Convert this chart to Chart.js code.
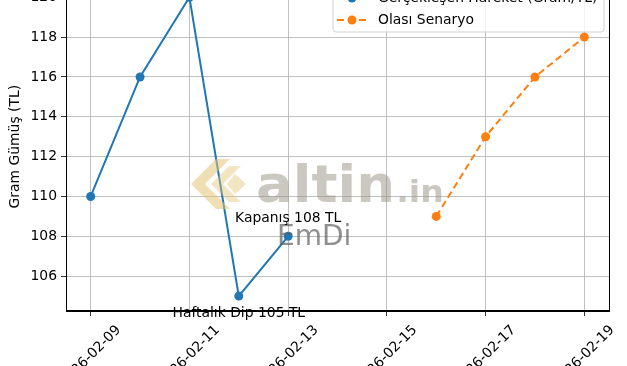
<!DOCTYPE html>
<html>
<head>
<meta charset="utf-8">
<script src="https://cdn.jsdelivr.net/npm/chart.js@4.4.1/dist/chart.umd.min.js"></script>
<style>
  html, body { margin: 0; padding: 0; background: #fff; overflow: hidden; width: 627px; height: 366px; }
  #wrap { position: absolute; left: 0; top: -30px; width: 627px; height: 430px; }
  canvas { display: block; }
</style>
</head>
<body>
<div id="wrap"><canvas id="c" width="627" height="430"></canvas></div>
<script>
// ---- data ----
const actualDates = ['2026-02-09', '2026-02-10', '2026-02-11', '2026-02-12', '2026-02-13'];
const actualValues = [110, 116, 120, 105, 108];
const scenarioDates = ['2026-02-16', '2026-02-17', '2026-02-18', '2026-02-19'];
const scenarioValues = [109, 113, 116, 118];
const xTickLabels = ['2026-02-09', '2026-02-11', '2026-02-13', '2026-02-15', '2026-02-17', '2026-02-19'];
const yTickValues = [106, 108, 110, 112, 114, 116, 118, 120];
const seriesNames = ['Gerçekleşen Hareket (Gram/TL)', 'Olası Senaryo'];
const yTitle = 'Gram Gümüş (TL)';
const dipLabel = 'Haftalık Dip 105 TL';
const closeLabel = 'Kapanış 108 TL';

const BASE = Date.parse(actualDates[0] + 'T00:00:00Z');
const dayOf = d => (Date.parse(d + 'T00:00:00Z') - BASE) / 86400000;
const toPts = (dates, vals) => dates.map((d, i) => ({ x: dayOf(d), y: vals[i] }));

const allX = actualDates.concat(scenarioDates).map(dayOf);
const allY = actualValues.concat(scenarioValues);
const xMinD = Math.min(...allX), xMaxD = Math.max(...allX);
const yMinD = Math.min(...allY), yMaxD = Math.max(...allY);
const xPad = (xMaxD - xMinD) * 0.05, yPad = (yMaxD - yMinD) * 0.05;

const BLUE = '#1f77b4', ORANGE = '#ff7f0e';
const FONT = 'DejaVu Sans';
const FS = 13.9;

const spines = {
  id: 'spines',
  afterDraw(chart) {
    const { ctx, chartArea: a } = chart;
    ctx.save();
    ctx.strokeStyle = '#000';
    ctx.lineWidth = 1;
    ctx.strokeRect(Math.round(a.left) + 0.5, Math.round(a.top) + 0.5, Math.round(a.right - a.left), Math.round(a.bottom - a.top));
    ctx.restore();
  }
};

const watermark = {
  id: 'watermark',
  afterDatasetsDraw(chart) {
    const ctx = chart.ctx;
    ctx.save();
    // chevron logo
    ctx.fillStyle = 'rgba(228,196,120,0.55)';
    const ox = 191, oy = 214; // canvas coords
    const chev = (x, y, w, h, t) => {
      ctx.beginPath();
      ctx.moveTo(x + w, y - h);
      ctx.lineTo(x, y);
      ctx.lineTo(x + w, y + h);
      ctx.lineTo(x + w + t, y + h);
      ctx.lineTo(x + t, y);
      ctx.lineTo(x + w + t, y - h);
      ctx.closePath();
      ctx.fill();
    };
    chev(ox, oy, 25, 25, 14);
    ctx.fillStyle = 'rgba(228,196,120,0.45)';
    chev(ox + 20, oy, 18, 18, 12);
    ctx.beginPath();
    ctx.moveTo(ox + 44, oy - 10); ctx.lineTo(ox + 55, oy); ctx.lineTo(ox + 44, oy + 10); ctx.lineTo(ox + 36, oy); ctx.closePath();
    ctx.fill();
    // altin.in
    ctx.fillStyle = 'rgba(150,145,130,0.5)';
    ctx.textBaseline = 'alphabetic';
    ctx.textAlign = 'left';
    ctx.translate(256, 232);
    ctx.scale(1.07, 1);
    ctx.font = 'bold 51px "' + FONT + '"';
    ctx.fillText('altin', 0, 0);
    const w = ctx.measureText('altin').width;
    ctx.font = 'bold 31px "' + FONT + '"';
    ctx.fillText('.in', w + 1, 0);
    ctx.setTransform(1, 0, 0, 1, 0, 0);
    // EmDi
    ctx.fillStyle = 'rgba(95,95,95,0.7)';
    ctx.font = '28px "' + FONT + '"';
    ctx.fillText('EmDi', 277, 275);
    ctx.restore();
  }
};

const notes = {
  id: 'notes',
  afterDraw(chart) {
    const ctx = chart.ctx, xs = chart.scales.x, ys = chart.scales.y;
    ctx.save();
    ctx.fillStyle = '#000';
    ctx.font = FS + 'px "' + FONT + '"';
    ctx.textAlign = 'center';
    ctx.textBaseline = 'middle';
    const dipIdx = actualValues.indexOf(Math.min(...actualValues));
    ctx.fillText(dipLabel, xs.getPixelForValue(dayOf(actualDates[dipIdx])), ys.getPixelForValue(actualValues[dipIdx]) + 17);
    const last = actualValues.length - 1;
    ctx.fillText(closeLabel, xs.getPixelForValue(dayOf(actualDates[last])), ys.getPixelForValue(actualValues[last]) - 18);
    ctx.restore();
  }
};

const legendBox = {
  id: 'legendBox',
  afterDraw(chart) {
    const ctx = chart.ctx;
    ctx.save();
    const x0 = 333, y0 = 13, x1 = 604, y1 = 62, r = 3;
    ctx.beginPath();
    ctx.moveTo(x0 + r, y0); ctx.lineTo(x1 - r, y0); ctx.arcTo(x1, y0, x1, y0 + r, r);
    ctx.lineTo(x1, y1 - r); ctx.arcTo(x1, y1, x1 - r, y1, r);
    ctx.lineTo(x0 + r, y1); ctx.arcTo(x0, y1, x0, y1 - r, r);
    ctx.lineTo(x0, y0 + r); ctx.arcTo(x0, y0, x0 + r, y0, r);
    ctx.closePath();
    ctx.fillStyle = 'rgba(255,255,255,0.8)';
    ctx.fill();
    ctx.strokeStyle = '#d0d0d0';
    ctx.lineWidth = 1;
    ctx.stroke();
    const rows = [28, 50];
    chart.data.datasets.forEach((ds, i) => {
      const y = rows[i];
      ctx.strokeStyle = ds.borderColor;
      ctx.lineWidth = 2;
      ctx.setLineDash(ds.borderDash || []);
      ctx.beginPath(); ctx.moveTo(337, y); ctx.lineTo(367, y); ctx.stroke();
      ctx.setLineDash([]);
      ctx.fillStyle = ds.backgroundColor;
      ctx.beginPath(); ctx.arc(352, y, 4.5, 0, Math.PI * 2); ctx.fill();
      ctx.fillStyle = '#000';
      ctx.font = FS + 'px "' + FONT + '"';
      ctx.textAlign = 'left';
      ctx.textBaseline = 'middle';
      ctx.fillText(ds.label, 378, y);
    });
    ctx.restore();
  }
};

new Chart(document.getElementById('c'), {
  type: 'line',
  data: {
    datasets: [
      { label: seriesNames[0], data: toPts(actualDates, actualValues), borderColor: BLUE, backgroundColor: BLUE,
        borderWidth: 2, pointRadius: 4.5, pointHoverRadius: 4.5, pointBorderWidth: 0, tension: 0 },
      { label: seriesNames[1], data: toPts(scenarioDates, scenarioValues), borderColor: ORANGE, backgroundColor: ORANGE,
        borderWidth: 2, borderDash: [7, 4], pointRadius: 4.5, pointHoverRadius: 4.5, pointBorderWidth: 0, tension: 0 }
    ]
  },
  options: {
    responsive: false,
    animation: false,
    devicePixelRatio: 1,
    layout: { padding: { top: 10, right: 18, left: 0, bottom: 0 } },
    plugins: { legend: { display: false }, tooltip: { enabled: false }, title: { display: false } },
    scales: {
      x: {
        type: 'linear',
        min: xMinD - xPad, max: xMaxD + xPad,
        afterFit: s => { s.height = 89; },
        afterBuildTicks: s => { s.ticks = xTickLabels.map(l => ({ value: dayOf(l) })); },
        grid: { color: '#b0b0b0', lineWidth: 0.8, tickColor: '#000', tickLength: 5, drawTicks: true },
        border: { color: '#000', width: 1 },
        ticks: {
          autoSkip: false, maxRotation: 45, minRotation: 45, labelOffset: 28, padding: 6,
          color: '#000', font: { family: FONT, size: FS },
          callback: v => xTickLabels.find(l => dayOf(l) === v) || ''
        }
      },
      y: {
        min: yMinD - yPad, max: yMaxD + yPad,
        afterFit: s => { s.width = 66; },
        afterBuildTicks: s => { s.ticks = yTickValues.map(v => ({ value: v })); },
        grid: { color: '#b0b0b0', lineWidth: 0.8, tickColor: '#000', tickLength: 5, drawTicks: true },
        border: { color: '#000', width: 1 },
        ticks: { color: '#000', padding: 4, font: { family: FONT, size: FS } },
        title: { display: true, text: yTitle, color: '#000', font: { family: FONT, size: FS }, padding: { top: 7, bottom: 0 } }
      }
    }
  },
  plugins: [spines, watermark, notes, legendBox]
});
</script>
</body>
</html>
